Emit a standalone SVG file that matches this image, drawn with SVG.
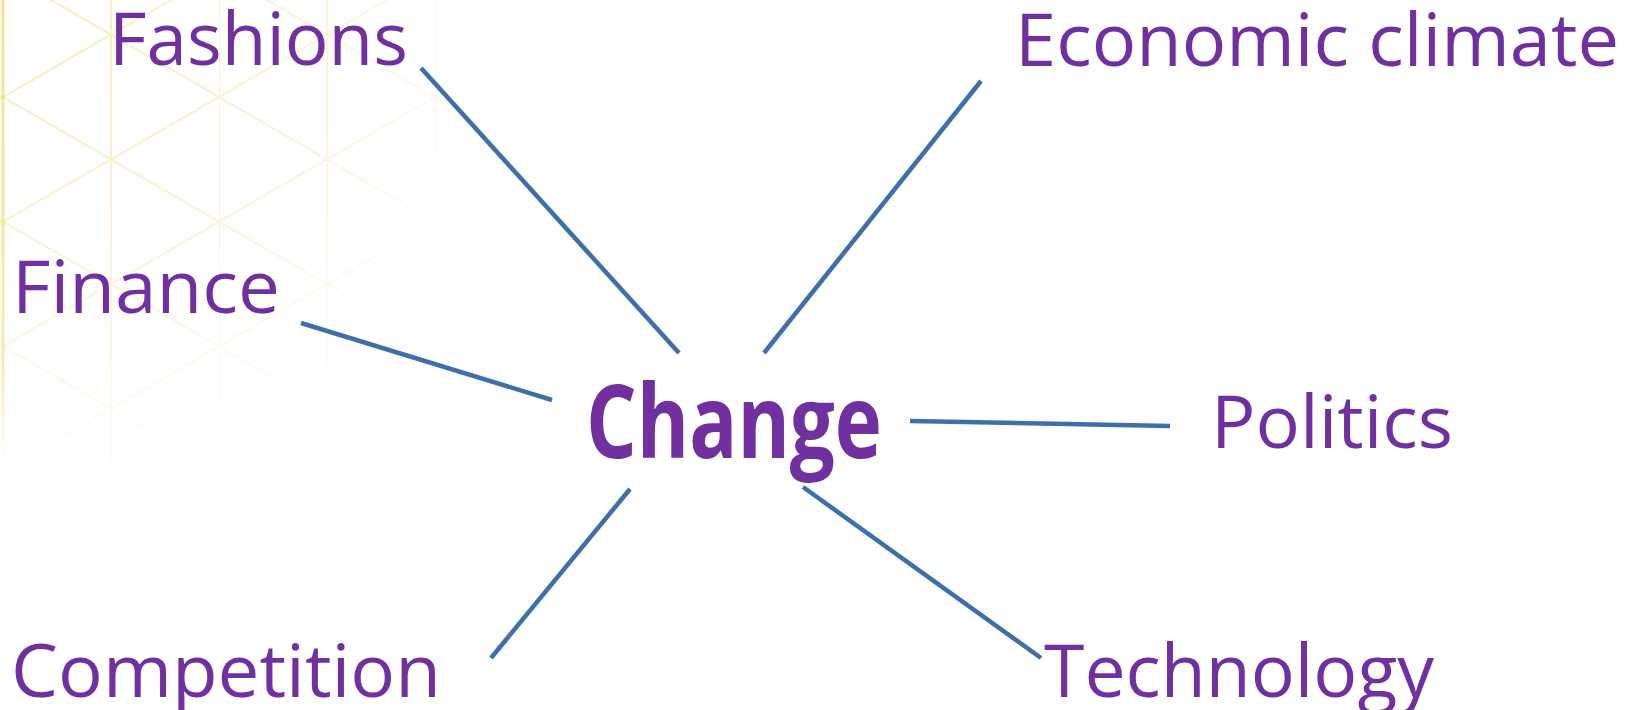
<svg xmlns="http://www.w3.org/2000/svg" width="1629" height="710" viewBox="0 0 1629 710">
  <defs>
    <style>
      .label { font-family: "Open Sans", "Noto Sans", "Liberation Sans", sans-serif; font-size: 74px; fill: #7030a0; }
      .hub { font-family: "Open Sans", "Noto Sans", "Liberation Sans", sans-serif; font-size: 102px; font-weight: bold; fill: #7030a0; }
      .link { stroke: #3d6fab; stroke-width: 4.5; fill: none; stroke-linecap: butt; }
      .grid { stroke: #f4e29c; stroke-width: 2; fill: none; }
    </style>
    <!-- triangular lattice tile: vertical rules every 108px, diagonals at 30 degrees -->
    <pattern id="lattice" patternUnits="userSpaceOnUse" x="3" y="-27.7" width="216" height="124.7">
      <line class="grid" x1="0" y1="0" x2="0" y2="124.7"/>
      <line class="grid" x1="108" y1="0" x2="108" y2="124.7"/>
      <line class="grid" x1="0" y1="0" x2="216" y2="124.7"/>
      <line class="grid" x1="0" y1="124.7" x2="216" y2="0"/>
    </pattern>
    <radialGradient id="fade" gradientUnits="userSpaceOnUse" cx="60" cy="40" r="490">
      <stop offset="0" stop-color="#fff" stop-opacity="0.65"/>
      <stop offset="0.5" stop-color="#fff" stop-opacity="0.4"/>
      <stop offset="0.8" stop-color="#fff" stop-opacity="0.12"/>
      <stop offset="1" stop-color="#fff" stop-opacity="0"/>
    </radialGradient>
    <mask id="fadeMask">
      <rect x="0" y="0" width="620" height="560" fill="url(#fade)"/>
    </mask>
    <linearGradient id="edgeFade" gradientUnits="userSpaceOnUse" x1="0" y1="0" x2="0" y2="460">
      <stop offset="0" stop-color="#f5d45a" stop-opacity="0.6"/>
      <stop offset="0.75" stop-color="#f5d45a" stop-opacity="0.5"/>
      <stop offset="1" stop-color="#f5d45a" stop-opacity="0"/>
    </linearGradient>
  </defs>

  <rect width="1629" height="710" fill="#ffffff"/>

  <!-- decorative background lattice -->
  <g id="background">
    <rect x="0" y="0" width="620" height="560" fill="url(#lattice)" mask="url(#fadeMask)"/>
    <line x1="3" y1="0" x2="3" y2="460" stroke="url(#edgeFade)" stroke-width="3"/>
  </g>

  <!-- spokes from the hub -->
  <g id="connectors">
    <line class="link" x1="421" y1="68" x2="679" y2="353"/>
    <line class="link" x1="981" y1="81" x2="764" y2="353"/>
    <line class="link" x1="301" y1="323" x2="552" y2="400"/>
    <line class="link" x1="910" y1="421" x2="1170" y2="426"/>
    <line class="link" x1="630" y1="489" x2="491" y2="658"/>
    <line class="link" x1="803" y1="487" x2="1041" y2="658"/>
  </g>

  <g id="node-change">
    <text class="hub" x="586" y="458" textLength="296" lengthAdjust="spacingAndGlyphs">Change</text>
  </g>
  <g id="node-fashions">
    <text class="label" x="109" y="65" textLength="299" lengthAdjust="spacingAndGlyphs">Fashions</text>
  </g>
  <g id="node-economic-climate">
    <text class="label" x="1015" y="66" textLength="604" lengthAdjust="spacingAndGlyphs">Economic climate</text>
  </g>
  <g id="node-finance">
    <text class="label" x="12" y="313" textLength="268" lengthAdjust="spacingAndGlyphs">Finance</text>
  </g>
  <g id="node-politics">
    <text class="label" x="1211" y="448" textLength="242" lengthAdjust="spacingAndGlyphs">Politics</text>
  </g>
  <g id="node-competition">
    <text class="label" x="11" y="697" textLength="430" lengthAdjust="spacingAndGlyphs">Competition</text>
  </g>
  <g id="node-technology">
    <text class="label" x="1044" y="697" textLength="390" lengthAdjust="spacingAndGlyphs">Technology</text>
  </g>
</svg>
